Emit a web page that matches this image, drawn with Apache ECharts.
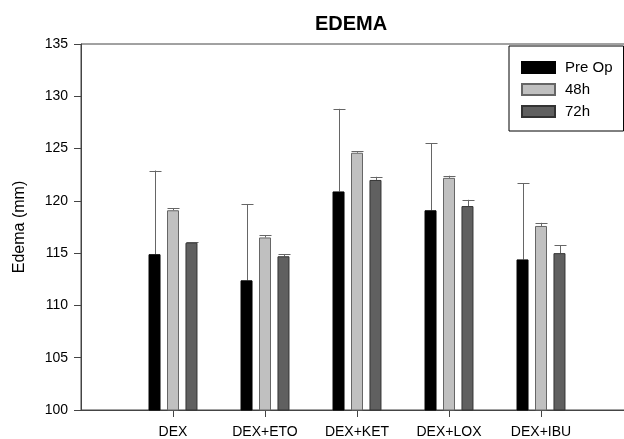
<!DOCTYPE html>
<html>
<head>
<meta charset="utf-8">
<script src="https://cdn.jsdelivr.net/npm/echarts@6/dist/echarts.min.js"></script>
<style>html,body{margin:0;padding:0;background:#fff}#c{width:624px;height:439px}</style>
</head>
<body>
<div id="c"></div>
<script>
const categories = ['DEX', 'DEX+ETO', 'DEX+KET', 'DEX+LOX', 'DEX+IBU'];
const seriesNames = ['Pre Op', '48h', '72h'];
const preOp = [114.9, 112.4, 120.9, 119.1, 114.4];
const h48 = [119.1, 116.5, 124.6, 122.2, 117.6];
const h72 = [116.0, 114.7, 122.0, 119.5, 115.0];
const preOpErr = [8.0, 7.3, 7.9, 6.4, 7.3];
const h48Err = [0.2, 0.2, 0.12, 0.2, 0.3];
const h72Err = [0.05, 0.2, 0.3, 0.6, 0.76];
const yTicks = [100, 105, 110, 115, 120, 125, 130, 135];

const axisCats = [''].concat(categories, ['']);
const pad = arr => [null].concat(arr, [null]);
const values = [preOp, h48, h72];
const errs = [preOpErr, h48Err, h72Err];
const colors = ['#000000', '#c0c0c0', '#606060'];
const borders = ['#000000', '#666666', '#333333'];
const offsets = [-18.5, 0, 18.5];

const series = [];
values.forEach((vals, s) => {
  series.push({
    name: seriesNames[s], type: 'bar', data: pad(vals), barWidth: 12, barGap: '54%',
    itemStyle: { color: colors[s], borderColor: borders[s], borderWidth: 1 },
    emphasis: { disabled: true }, animation: false
  });
});
values.forEach((vals, s) => {
  series.push({
    type: 'custom', animation: false, silent: true, z: 1,
    data: vals.map((v, i) => [i + 1, v, v + errs[s][i]]),
    renderItem: function (params, api) {
      const base = api.coord([api.value(0), api.value(1)]);
      const top = api.coord([api.value(0), api.value(2)]);
      const x = Math.round(base[0] + offsets[s]) + 0.5;
      const st = { stroke: '#666666', lineWidth: 1 };
      return { type: 'group', children: [
        { type: 'line', shape: { x1: x, y1: base[1], x2: x, y2: top[1] }, style: st },
        { type: 'line', shape: { x1: x - 6, y1: Math.round(top[1]) + 0.5, x2: x + 6, y2: Math.round(top[1]) + 0.5 }, style: st }
      ]};
    }
  });
});

const chart = echarts.init(document.getElementById('c'));
chart.setOption({
  animation: false,
  title: { text: 'EDEMA', left: 346, top: 9, textAlign: 'center',
    textStyle: { fontFamily: 'Liberation Sans', fontWeight: 'bold', fontSize: 20, color: '#000' } },
  legend: {
    data: seriesNames, orient: 'vertical', left: 509, top: 46,
    icon: 'rect', itemWidth: 33, itemHeight: 11, itemGap: 7,
    padding: [14, 11, 12, 12], borderColor: '#000', borderWidth: 1,
    textStyle: { fontFamily: 'Liberation Sans', fontSize: 15, color: '#000', padding: [0, 0, 0, 5] },
    selectedMode: false
  },
  grid: { left: 81, width: 552, top: 44, height: 366, outerBoundsMode: 'none', containLabel: false,
    show: true, borderColor: '#444', borderWidth: 1 },
  xAxis: {
    type: 'category', data: axisCats, boundaryGap: false,
    axisLine: { lineStyle: { color: '#444' } },
    axisTick: { length: 7, interval: (i, v) => v !== '', lineStyle: { color: '#444' } },
    axisLabel: { interval: 0, fontFamily: 'Liberation Sans', fontSize: 14, color: '#000', margin: 15 }
  },
  yAxis: {
    type: 'value', min: yTicks[0], max: yTicks[yTicks.length - 1], interval: 5,
    name: 'Edema (mm)', nameLocation: 'middle', nameGap: 53,
    nameTextStyle: { fontFamily: 'Liberation Sans', fontSize: 16, color: '#000' },
    splitLine: { show: false },
    axisLine: { show: true, lineStyle: { color: '#444' } },
    axisTick: { show: true, length: 7, lineStyle: { color: '#444' } },
    axisLabel: { fontFamily: 'Liberation Sans', fontSize: 14, color: '#000', margin: 13 }
  },
  series: series
});
</script>
</body>
</html>
